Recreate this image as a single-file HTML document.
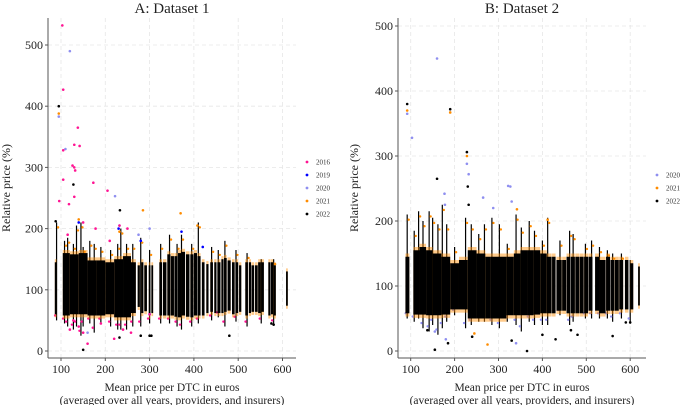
<!DOCTYPE html>
<html><head><meta charset="utf-8"><style>
body{margin:0;background:#fff}
svg{display:block;font-family:"Liberation Serif",serif}
</style></head><body>
<svg id="c" width="681" height="405" viewBox="0 0 681 405"></svg>
<script>
// ---------- data ----------
const yTicks=[0,100,200,300,400,500];
const xTicks=[100,200,300,400,500,600];
const yearsA=["2016","2019","2020","2021","2022"];
const yearsB=["2020","2021","2022"];
const yearColors={"2016":"#ff1493","2019":"#0000ff","2020":"#8f8ff0","2021":"#ff8c00","2022":"#000000"};
// dense bands: start euro, end euro, low %, high %
const bandStartA=[86,104,120,140,160,180,200,220,240,258,273,281,288,298,304,322,330,340,348,356,364,372,382,392,400,408,418,428,437,446,453,462,468,476,486,494,502,516,524,530,538,545,552,568,574,580,608];
const bandEndA  =[90,120,140,160,180,200,220,240,258,269,278,286,294,302,308,328,338,347,355,363,371,380,390,399,407,415,424,433,443,451,460,467,474,483,492,500,507,522,529,536,544,551,558,573,579,585,612];
const bandLoA   =[60,58,60,60,58,58,60,55,55,62,72,62,65,58,62,58,58,58,58,56,55,58,56,55,58,58,58,62,64,62,62,62,64,66,60,62,64,58,62,64,64,62,64,58,60,58,74];
const bandHiA   =[145,160,158,160,148,148,145,150,155,145,140,145,140,140,140,145,145,158,155,155,160,162,158,158,160,155,145,142,145,145,145,150,152,148,145,145,140,145,145,140,140,145,145,145,145,140,130];
const bandStartB=[88,106,120,135,150,170,190,210,230,250,270,282,300,318,335,350,365,380,395,410,422,432,445,455,465,475,485,495,505,520,530,545,555,565,575,588,600,618];
const bandEndB  =[97,120,135,150,170,190,210,230,250,270,282,300,318,335,350,365,380,395,410,421,430,444,454,464,474,484,494,504,514,529,544,554,564,574,584,596,607,622];
const bandLoB   =[58,56,56,55,55,56,64,64,50,50,50,50,50,55,55,55,55,56,58,58,58,62,62,58,58,58,58,58,62,62,58,62,62,62,64,64,64,70];
const bandHiB   =[145,155,160,155,150,145,135,140,155,150,145,145,145,145,150,155,155,155,150,145,145,140,140,145,145,145,145,145,145,145,140,145,140,140,140,140,135,130];
// spikes above/below dense bands: x euro, extreme %
const spikeXA=[90,108,115,128,135,145,150,165,175,190,212,228,235,248,262,280,300,325,345,362,372,395,410,440,455,470,495,520,552,580];
const spikeHiA=[210,180,185,175,205,210,170,180,175,170,165,175,200,175,175,185,165,175,190,175,190,175,210,170,165,180,165,160,150,150];
const spikeLoA=[50,45,40,35,40,25,40,45,30,45,40,35,35,35,40,40,45,45,45,40,35,40,45,50,55,40,48,40,45,42];
const spikeXB=[92,108,118,128,142,150,162,172,182,200,225,238,255,268,285,302,320,340,352,370,382,400,412,440,462,470,498,512,530,548,560,580,600];
const spikeHiB=[210,185,215,200,215,205,195,225,195,160,205,195,180,195,205,195,165,210,190,200,185,170,205,170,185,180,165,170,160,155,150,150,140];
const spikeLoB=[50,45,50,35,30,40,25,35,45,55,35,40,45,45,40,35,45,40,30,45,40,40,40,55,40,45,50,50,50,50,45,50,42];
// outliers per series: x euro, y %
const a2016x=[103,105,105,105,126,130,130,132,130,138,142,173,205,96,118,160,150,140,220,240,258,300,115,232,250,120,150,178,128,190,210];
const a2016y=[532,427,328,280,303,337,300,295,252,365,335,275,262,245,240,12,30,40,20,35,30,60,190,205,200,35,210,200,50,45,180];
const a2019x=[140,230,280,372,420,300];
const a2019y=[210,200,180,195,170,60];
const a2020x=[120,95,110,222,232,275,300,160];
const a2020y=[490,383,330,253,205,190,200,30];
const a2021x=[95,140,232,285,408,370];
const a2021y=[388,215,195,230,205,225];
const a2022x=[95,128,150,232,280,300,304,480,580,575,88,233];
const a2022y=[400,272,2,22,25,25,25,25,43,45,212,230];
const b2020x=[160,103,92,177,228,232,322,327,265,288,330,178,340,180,155];
const b2020y=[450,328,365,242,288,272,254,253,236,220,230,225,12,18,30];
const b2021x=[92,190,228,412,275,245,342];
const b2021y=[370,367,300,202,10,27,218];
const b2022x=[92,190,228,160,230,232,155,365,330,185,560,430,400,480,590,600,465,240,138];
const b2022y=[380,372,306,265,253,225,2,0,16,12,23,18,25,25,44,44,32,22,32];

// ---------- drawing ----------
const svg=document.getElementById('c');
const NS='http://www.w3.org/2000/svg';
function mk(tag,attrs,parent){const e=document.createElementNS(NS,tag);for(const k in attrs)e.setAttribute(k,attrs[k]);(parent||svg).appendChild(e);return e;}

function panel(P){
  const g=mk('g',{});
  
  
  const sx=v=>P.x0+(v-100)*P.kx, sy=v=>P.y0-v*P.ky;
  xTicks.forEach(t=>{const l=mk('line',{x1:sx(t),x2:sx(t),y1:P.top,y2:P.axisY,stroke:'#e6e6e6','stroke-width':0.8,'stroke-dasharray':'4,3'},g);
    });
  yTicks.forEach(t=>{const l=mk('line',{x1:P.axisX,x2:P.right,y1:sy(t),y2:sy(t),stroke:'#e6e6e6','stroke-width':0.8,'stroke-dasharray':'4,3'},g);
    });
  const bg=mk('g',{},g);
  // spikes
  P.sx.forEach((v,i)=>{
    const s=mk('line',{x1:sx(v),x2:sx(v),y1:sy(P.sh[i]),y2:sy(P.sl[i]),stroke:'#000','stroke-width':1.2},bg);
    
    const o1=mk('circle',{cx:sx(v)+1.5,cy:sy(P.sh[i]-8),r:1.2,fill:'#ff8c00'},bg);
    
    const o2=mk('circle',{cx:sx(v)-1.5,cy:sy(P.sl[i]+8),r:1.2,fill:P.lowCol},bg);
    
  });
  P.bs.forEach((s,i)=>{
    const x=sx(s),w=Math.max(1.5,sx(P.be[i])-sx(s));
    const f=mk('rect',{x:x,y:sy(P.bh[i]+5),width:w,height:sy(P.bl[i]-5)-sy(P.bh[i]+5),fill:'#ff8c00',opacity:0.45},bg);
    
    const r=mk('rect',{x:x,y:sy(P.bh[i]),width:w,height:sy(P.bl[i])-sy(P.bh[i]),fill:'#000'},bg);
    
  });
  P.series.forEach(S=>{
    S.x.forEach((v,i)=>{const c=mk('circle',{cx:sx(v),cy:sy(S.y[i]),r:1.3,fill:yearColors[S.year]},g);
      });
  });
  const ya=mk('line',{x1:P.axisX,x2:P.axisX,y1:P.top,y2:P.axisY,stroke:'#555','stroke-width':1},g);
  
  const xa=mk('line',{x1:P.axisX,x2:P.right,y1:P.axisY,y2:P.axisY,stroke:'#555','stroke-width':1},g);
  
  yTicks.forEach(t=>{
    const tk=mk('line',{x1:P.axisX-3,x2:P.axisX,y1:sy(t),y2:sy(t),stroke:'#555'},g);
    
    const tx=mk('text',{x:P.axisX-5,y:sy(t)+4,'text-anchor':'end','font-size':12,fill:'#222'},g);tx.textContent=t;
    });
  xTicks.forEach(t=>{
    const tk=mk('line',{x1:sx(t),x2:sx(t),y1:P.axisY,y2:P.axisY+3,stroke:'#555'},g);
    
    const tx=mk('text',{x:sx(t),y:P.axisY+15,'text-anchor':'middle','font-size':12,fill:'#222'},g);tx.textContent=t;
    });
  const mid=(P.axisX+P.right)/2;
  const t=mk('text',{x:mid,y:13,'text-anchor':'middle','font-size':15,fill:'#222'},g);t.textContent=P.title;
  
  const x1=mk('text',{x:mid,y:391,'text-anchor':'middle','font-size':11.5,fill:'#222'},g);x1.textContent='Mean price per DTC in euros';
  
  const x2=mk('text',{x:mid,y:404,'text-anchor':'middle','font-size':11.5,fill:'#222'},g);x2.textContent='(averaged over all years, providers, and insurers)';
  
  const yt=mk('text',{x:0,y:0,'text-anchor':'middle','font-size':12,fill:'#222',transform:`translate(${P.ylabX},${(P.top+P.axisY)/2}) rotate(-90)`},g);yt.textContent='Relative price (%)';
  
  P.legYears.forEach((yr,i)=>{
    const lg=mk('g',{},g);
    mk('circle',{cx:P.legX,cy:P.legY+i*13,r:1.4,fill:yearColors[yr]},lg);
    const tx=mk('text',{x:P.legX+9,y:P.legY+i*13+2.5,'font-size':7,fill:'#333'},lg);tx.textContent=yr;
  });
}
panel({name:'panel-a',title:'A: Dataset 1',x0:61,kx:0.443,y0:351,ky:0.612,axisX:48,axisY:358,top:18,right:296,ylabX:10,lowCol:'#ff1493',
  bs:bandStartA,be:bandEndA,bl:bandLoA,bh:bandHiA,sx:spikeXA,sh:spikeHiA,sl:spikeLoA,legYears:yearsA,legX:307,legY:162,
  series:[{year:'2020',x:a2020x,y:a2020y},{year:'2021',x:a2021x,y:a2021y},{year:'2019',x:a2019x,y:a2019y},{year:'2016',x:a2016x,y:a2016y},{year:'2022',x:a2022x,y:a2022y}]});
panel({name:'panel-b',title:'B: Dataset 2',x0:410.7,kx:0.439,y0:351,ky:0.65,axisX:398,axisY:358,top:18,right:646,ylabX:358,lowCol:'#8f8ff0',
  bs:bandStartB,be:bandEndB,bl:bandLoB,bh:bandHiB,sx:spikeXB,sh:spikeHiB,sl:spikeLoB,legYears:yearsB,legX:657,legY:175,
  series:[{year:'2020',x:b2020x,y:b2020y},{year:'2021',x:b2021x,y:b2021y},{year:'2022',x:b2022x,y:b2022y}]});
</script>
</body></html>
